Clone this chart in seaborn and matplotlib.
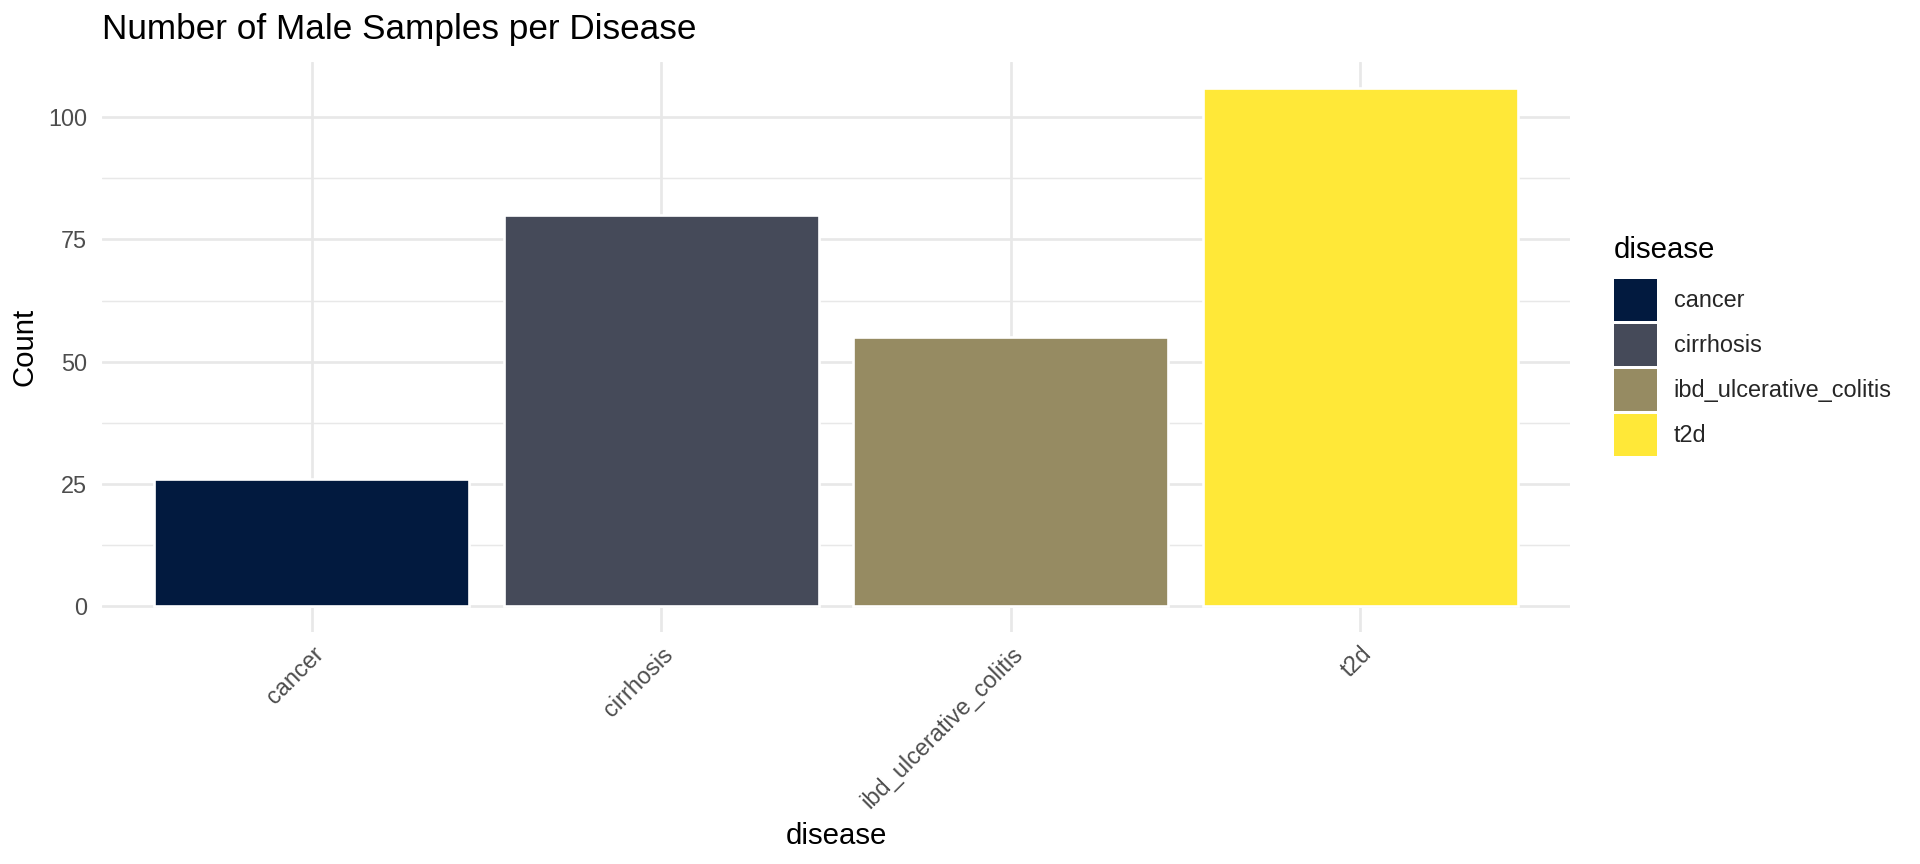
import pandas as pd
import seaborn as sns
import matplotlib.pyplot as plt
from matplotlib.patches import Patch

# values
diseases = ["cancer", "cirrhosis", "ibd_ulcerative_colitis", "t2d"]
counts = [26, 80, 55, 106]
bar_colors = ["#021A3F", "#454A59", "#968B62", "#FFE838"]

y_ticks = [0, 25, 50, 75, 100]

df = pd.DataFrame({"disease": diseases, "Count": counts})

sns.set_theme(style="white")
plt.rcParams["font.family"] = ["Liberation Sans", "DejaVu Sans"]

fig = plt.figure(figsize=(10, 4.5), dpi=192)
ax = fig.add_axes([102 / 1920, 1 - 632 / 864, 1468 / 1920, 570 / 864])

sns.barplot(data=df, x="disease", y="Count", hue="disease",
            palette=dict(zip(diseases, bar_colors)), width=0.9,
            saturation=1, legend=False, ax=ax)

# ggplot-like expansion of the scales
ax.set_xlim(-0.6, len(diseases) - 1 + 0.6)
ymax = max(counts)
ax.set_ylim(-0.05 * ymax, ymax * 1.05)

# grid: major + minor for y, major only for x
ax.set_yticks(y_ticks)
ax.set_yticks([12.5, 37.5, 62.5, 87.5], minor=True)
ax.set_axisbelow(True)
ax.grid(True, which="major", axis="both", color="#E8E8E8", linewidth=1.0)
ax.grid(True, which="minor", axis="y", color="#E8E8E8", linewidth=0.55)
for s in ax.spines.values():
    s.set_visible(False)

ax.tick_params(axis="both", which="both", length=0, labelsize=8.8,
               labelcolor="#4D4D4D")
ax.tick_params(axis="y", pad=5.6)
ax.tick_params(axis="x", pad=4.0)
plt.setp(ax.get_xticklabels(), rotation=45, ha="right", va="top",
         rotation_mode="anchor")

ax.set_xlabel("disease", fontsize=11, color="black")
ax.set_ylabel("Count", fontsize=11, color="black")
ax.xaxis.set_label_coords(0.5, (632 - 836) / 570)
ax.xaxis.label.set_va("center")
ax.yaxis.set_label_coords((24.5 - 102) / 1468, 0.5)
ax.yaxis.label.set_va("center")

fig.text(102 / 1920, 1 - 39 / 864, "Number of Male Samples per Disease",
         fontsize=13.2, color="black", ha="left", va="baseline")

# legend: title as separate text so the gap to the keys matches
fig.text(1614 / 1920, 1 - 250 / 864, "disease", fontsize=11,
         color="black", ha="left", va="center")
handles = [Patch(facecolor=c, edgecolor="none") for c in bar_colors]
leg = fig.legend(handles, diseases, loc="upper left",
                 bbox_to_anchor=(1614 / 1920, 1 - 279 / 864),
                 frameon=False, fontsize=8.8,
                 handlelength=1.85, handleheight=2.35, labelspacing=0.15,
                 handletextpad=0.7, borderpad=0, borderaxespad=0)

fig.savefig("out.png", dpi=192)
